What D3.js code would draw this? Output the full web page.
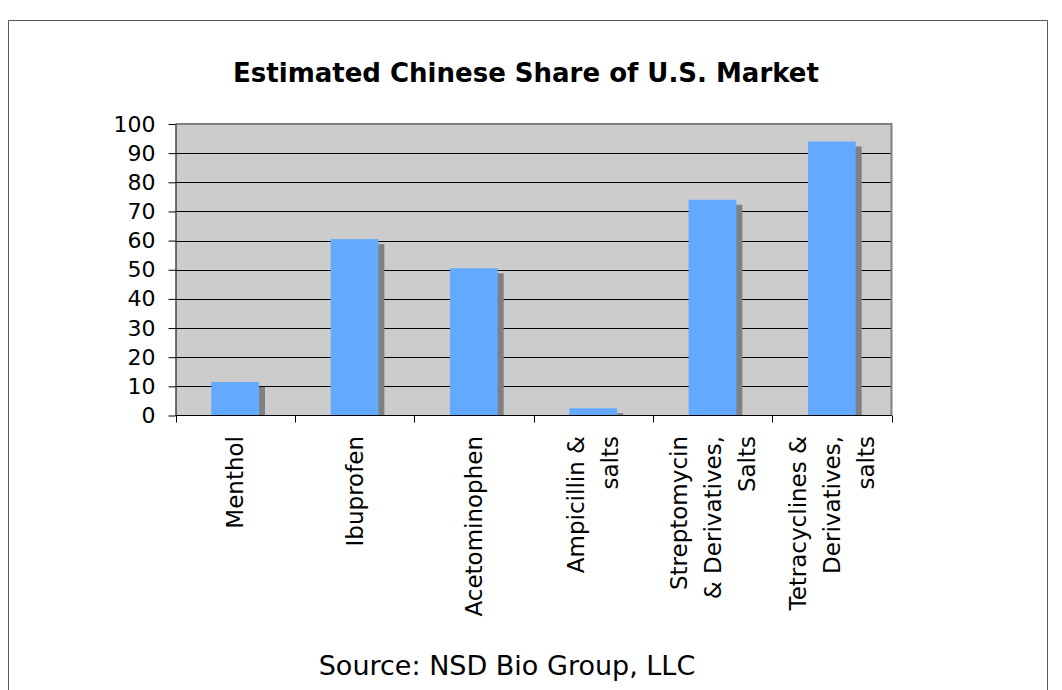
<!DOCTYPE html>
<html>
<head>
<meta charset="utf-8">
<script src="https://cdn.jsdelivr.net/npm/d3@7"></script>
<style>
  html, body { margin: 0; padding: 0; background: #ffffff; }
  svg { display: block; }
  text { font-family: "DejaVu Sans", Verdana, sans-serif; fill: #000; }
</style>
</head>
<body>
<svg id="chart" width="1062" height="690"></svg>
<script>
// Category names (line breaks mark where the axis labels wrap)
const categories = [
  "Menthol",
  "Ibuprofen",
  "Acetominophen",
  "Ampicillin &\nsalts",
  "Streptomycin\n& Derivatives,\nSalts",
  "Tetracyclines &\nDerivatives,\nsalts"
];
// Estimated Chinese share of the U.S. market, percent
const shareValues = [11.5, 60.5, 50.5, 2.5, 74, 94];
// Value axis tick labels
const yTicks = [0, 10, 20, 30, 40, 50, 60, 70, 80, 90, 100];

const titleText = "Estimated Chinese Share of U.S. Market";
const sourceText = "Source: NSD Bio Group, LLC";

const svg = d3.select("#chart");

// Outer chart frame (open at the bottom edge of the page)
svg.append("path")
  .attr("d", "M8.5,690 V20.5 H1047.5 V690")
  .attr("fill", "none")
  .attr("stroke", "#555")
  .attr("stroke-width", 1);

const plot = { left: 175.5, right: 891.5, top: 124, bottom: 415.5 };

const x = d3.scaleBand()
  .domain(categories)
  .range([plot.left, plot.right])
  .padding(0);

const y = d3.scaleLinear()
  .domain([0, 100])
  .range([plot.bottom, plot.top]);

// Plot area background
svg.append("rect")
  .attr("x", plot.left)
  .attr("y", plot.top)
  .attr("width", plot.right - plot.left)
  .attr("height", plot.bottom - plot.top)
  .attr("fill", "#cccccc");

// Horizontal gridlines
svg.append("g")
  .selectAll("line")
  .data(yTicks.filter(d => d > 0 && d < 100))
  .join("line")
  .attr("x1", plot.left)
  .attr("x2", plot.right)
  .attr("y1", d => Math.round(y(d)) + 0.5)
  .attr("y2", d => Math.round(y(d)) + 0.5)
  .attr("stroke", "#000")
  .attr("stroke-width", 1);

// Plot area border (top and right)
svg.append("path")
  .attr("d", `M${plot.left},${plot.top} H${plot.right} V${plot.bottom}`)
  .attr("fill", "none")
  .attr("stroke", "#808080")
  .attr("stroke-width", 2);

const barW = x.bandwidth() * 0.4;
const shadowDx = 6, shadowDy = 5;

// Bars with drop shadow, clipped at the category axis
svg.append("defs").append("clipPath")
  .attr("id", "plotClip")
  .append("rect")
  .attr("x", plot.left)
  .attr("y", plot.top - 10)
  .attr("width", plot.right - plot.left)
  .attr("height", plot.bottom - plot.top + 10);

const bars = svg.append("g").attr("clip-path", "url(#plotClip)");

bars.selectAll("rect.shadow")
  .data(categories)
  .join("rect")
  .attr("class", "shadow")
  .attr("x", (d) => x(d) + (x.bandwidth() - barW) / 2 + shadowDx)
  .attr("y", (d, i) => y(shareValues[i]) + shadowDy)
  .attr("width", barW)
  .attr("height", (d, i) => y(0) - y(shareValues[i]))
  .attr("fill", "#808080");

bars.selectAll("rect.bar")
  .data(categories)
  .join("rect")
  .attr("class", "bar")
  .attr("x", (d) => x(d) + (x.bandwidth() - barW) / 2)
  .attr("y", (d, i) => y(shareValues[i]))
  .attr("width", barW)
  .attr("height", (d, i) => y(0) - y(shareValues[i]))
  .attr("fill", "#62a9ff");

// Value axis
const yAxis = svg.append("g")
  .attr("transform", `translate(${plot.left},0)`)
  .call(d3.axisLeft(y).tickValues(yTicks).tickSize(7).tickPadding(13).tickSizeOuter(0));
yAxis.select(".domain").attr("stroke", "#000");
yAxis.selectAll(".tick line").attr("stroke", "#000");
yAxis.selectAll(".tick text")
  .attr("font-family", "'DejaVu Sans', Verdana, sans-serif")
  .attr("font-size", 22)
  .attr("fill", "#000");

// Category axis line and boundary ticks
const xAxis = svg.append("g");
xAxis.append("line")
  .attr("x1", plot.left).attr("x2", plot.right)
  .attr("y1", plot.bottom).attr("y2", plot.bottom)
  .attr("stroke", "#000");
const boundaries = categories.map(d => x(d)).concat([plot.right]);
xAxis.selectAll("line.tick")
  .data(boundaries)
  .join("line")
  .attr("class", "tick")
  .attr("x1", d => Math.round(d) + 0.5).attr("x2", d => Math.round(d) + 0.5)
  .attr("y1", plot.bottom).attr("y2", plot.bottom + 7)
  .attr("stroke", "#000");

// Rotated, wrapped category labels
const lineGap = 34;
const labelTop = 436;
const labels = xAxis.selectAll("g.label")
  .data(categories)
  .join("g")
  .attr("class", "label");
labels.each(function (d) {
  const lines = d.split("\n");
  const cx = x(d) + x.bandwidth() / 2;
  const g = d3.select(this);
  lines.forEach((ln, i) => {
    const bx = cx + 8 + (i - (lines.length - 1) / 2) * lineGap;
    g.append("text")
      .attr("transform", `translate(${bx},${labelTop}) rotate(-90)`)
      .attr("text-anchor", "end")
      .attr("font-size", 23)
      .text(ln);
  });
});

// Title
svg.append("text")
  .attr("x", 526)
  .attr("y", 82)
  .attr("text-anchor", "middle")
  .attr("font-weight", "bold")
  .attr("font-size", 26)
  .text(titleText);

// Source note
svg.append("text")
  .attr("x", 507)
  .attr("y", 675)
  .attr("text-anchor", "middle")
  .attr("font-size", 27)
  .text(sourceText);
</script>
</body>
</html>
